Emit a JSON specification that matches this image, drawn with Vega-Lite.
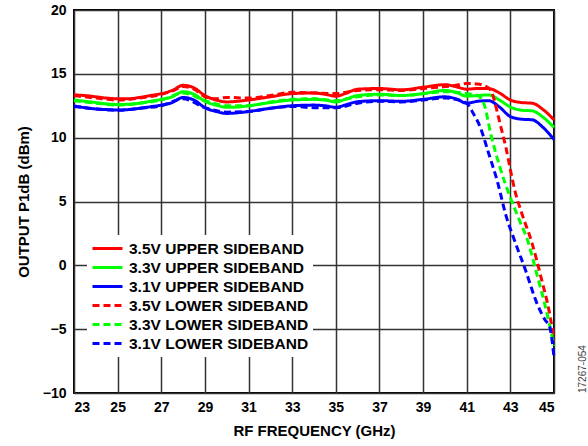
{
  "$schema": "https://vega.github.io/schema/vega-lite/v6.json",
  "width": 480,
  "height": 383,
  "autosize": {"type": "none"},
  "padding": {"left": 74, "top": 10, "right": 34, "bottom": 53},
  "background": "white",
  "config": {
    "font": "Liberation Sans",
    "view": {"stroke": "#000", "strokeWidth": 2}
  },
  "title": {
    "text": "17267-054",
    "orient": "right",
    "anchor": "end",
    "frame": "group",
    "angle": -90,
    "align": "left",
    "fontSize": 10,
    "fontWeight": "normal",
    "color": "#444",
    "offset": 8
  },
  "data": {
    "values": [
      {"s": "3.5V UPPER SIDEBAND", "f": 23, "p": 13.35},
      {"s": "3.5V UPPER SIDEBAND", "f": 23.5, "p": 13.3},
      {"s": "3.5V UPPER SIDEBAND", "f": 24, "p": 13.2},
      {"s": "3.5V UPPER SIDEBAND", "f": 24.5, "p": 13.1},
      {"s": "3.5V UPPER SIDEBAND", "f": 25, "p": 13.05},
      {"s": "3.5V UPPER SIDEBAND", "f": 25.5, "p": 13.05},
      {"s": "3.5V UPPER SIDEBAND", "f": 26, "p": 13.15},
      {"s": "3.5V UPPER SIDEBAND", "f": 26.5, "p": 13.3},
      {"s": "3.5V UPPER SIDEBAND", "f": 27, "p": 13.45},
      {"s": "3.5V UPPER SIDEBAND", "f": 27.5, "p": 13.7},
      {"s": "3.5V UPPER SIDEBAND", "f": 28, "p": 14.1},
      {"s": "3.5V UPPER SIDEBAND", "f": 28.5, "p": 13.9},
      {"s": "3.5V UPPER SIDEBAND", "f": 29, "p": 13.3},
      {"s": "3.5V UPPER SIDEBAND", "f": 29.5, "p": 12.95},
      {"s": "3.5V UPPER SIDEBAND", "f": 30, "p": 12.8},
      {"s": "3.5V UPPER SIDEBAND", "f": 30.5, "p": 12.85},
      {"s": "3.5V UPPER SIDEBAND", "f": 31, "p": 12.95},
      {"s": "3.5V UPPER SIDEBAND", "f": 32, "p": 13.2},
      {"s": "3.5V UPPER SIDEBAND", "f": 33, "p": 13.45},
      {"s": "3.5V UPPER SIDEBAND", "f": 34, "p": 13.5},
      {"s": "3.5V UPPER SIDEBAND", "f": 34.5, "p": 13.4},
      {"s": "3.5V UPPER SIDEBAND", "f": 35, "p": 13.25},
      {"s": "3.5V UPPER SIDEBAND", "f": 35.5, "p": 13.5},
      {"s": "3.5V UPPER SIDEBAND", "f": 36, "p": 13.8},
      {"s": "3.5V UPPER SIDEBAND", "f": 37, "p": 13.85},
      {"s": "3.5V UPPER SIDEBAND", "f": 38, "p": 13.75},
      {"s": "3.5V UPPER SIDEBAND", "f": 39, "p": 13.95},
      {"s": "3.5V UPPER SIDEBAND", "f": 40, "p": 14.15},
      {"s": "3.5V UPPER SIDEBAND", "f": 40.5, "p": 14.0},
      {"s": "3.5V UPPER SIDEBAND", "f": 41, "p": 13.8},
      {"s": "3.5V UPPER SIDEBAND", "f": 41.5, "p": 13.85},
      {"s": "3.5V UPPER SIDEBAND", "f": 42, "p": 13.85},
      {"s": "3.5V UPPER SIDEBAND", "f": 42.5, "p": 13.5},
      {"s": "3.5V UPPER SIDEBAND", "f": 43, "p": 12.95},
      {"s": "3.5V UPPER SIDEBAND", "f": 43.5, "p": 12.75},
      {"s": "3.5V UPPER SIDEBAND", "f": 44, "p": 12.7},
      {"s": "3.5V UPPER SIDEBAND", "f": 44.5, "p": 12.2},
      {"s": "3.5V UPPER SIDEBAND", "f": 45, "p": 11.4},

      {"s": "3.3V UPPER SIDEBAND", "f": 23, "p": 12.95},
      {"s": "3.3V UPPER SIDEBAND", "f": 23.5, "p": 12.85},
      {"s": "3.3V UPPER SIDEBAND", "f": 24, "p": 12.75},
      {"s": "3.3V UPPER SIDEBAND", "f": 24.5, "p": 12.65},
      {"s": "3.3V UPPER SIDEBAND", "f": 25, "p": 12.6},
      {"s": "3.3V UPPER SIDEBAND", "f": 25.5, "p": 12.62},
      {"s": "3.3V UPPER SIDEBAND", "f": 26, "p": 12.7},
      {"s": "3.3V UPPER SIDEBAND", "f": 26.5, "p": 12.85},
      {"s": "3.3V UPPER SIDEBAND", "f": 27, "p": 13.0},
      {"s": "3.3V UPPER SIDEBAND", "f": 27.5, "p": 13.2},
      {"s": "3.3V UPPER SIDEBAND", "f": 28, "p": 13.6},
      {"s": "3.3V UPPER SIDEBAND", "f": 28.5, "p": 13.4},
      {"s": "3.3V UPPER SIDEBAND", "f": 29, "p": 12.85},
      {"s": "3.3V UPPER SIDEBAND", "f": 29.5, "p": 12.55},
      {"s": "3.3V UPPER SIDEBAND", "f": 30, "p": 12.38},
      {"s": "3.3V UPPER SIDEBAND", "f": 30.5, "p": 12.4},
      {"s": "3.3V UPPER SIDEBAND", "f": 31, "p": 12.5},
      {"s": "3.3V UPPER SIDEBAND", "f": 32, "p": 12.75},
      {"s": "3.3V UPPER SIDEBAND", "f": 33, "p": 12.95},
      {"s": "3.3V UPPER SIDEBAND", "f": 34, "p": 13.0},
      {"s": "3.3V UPPER SIDEBAND", "f": 34.5, "p": 12.95},
      {"s": "3.3V UPPER SIDEBAND", "f": 35, "p": 12.8},
      {"s": "3.3V UPPER SIDEBAND", "f": 35.5, "p": 13.05},
      {"s": "3.3V UPPER SIDEBAND", "f": 36, "p": 13.3},
      {"s": "3.3V UPPER SIDEBAND", "f": 37, "p": 13.4},
      {"s": "3.3V UPPER SIDEBAND", "f": 38, "p": 13.3},
      {"s": "3.3V UPPER SIDEBAND", "f": 39, "p": 13.45},
      {"s": "3.3V UPPER SIDEBAND", "f": 40, "p": 13.7},
      {"s": "3.3V UPPER SIDEBAND", "f": 40.5, "p": 13.55},
      {"s": "3.3V UPPER SIDEBAND", "f": 41, "p": 13.25},
      {"s": "3.3V UPPER SIDEBAND", "f": 41.5, "p": 13.3},
      {"s": "3.3V UPPER SIDEBAND", "f": 42, "p": 13.35},
      {"s": "3.3V UPPER SIDEBAND", "f": 42.5, "p": 12.95},
      {"s": "3.3V UPPER SIDEBAND", "f": 43, "p": 12.4},
      {"s": "3.3V UPPER SIDEBAND", "f": 43.5, "p": 12.15},
      {"s": "3.3V UPPER SIDEBAND", "f": 44, "p": 12.1},
      {"s": "3.3V UPPER SIDEBAND", "f": 44.5, "p": 11.6},
      {"s": "3.3V UPPER SIDEBAND", "f": 45, "p": 10.8},

      {"s": "3.1V UPPER SIDEBAND", "f": 23, "p": 12.48},
      {"s": "3.1V UPPER SIDEBAND", "f": 23.5, "p": 12.35},
      {"s": "3.1V UPPER SIDEBAND", "f": 24, "p": 12.25},
      {"s": "3.1V UPPER SIDEBAND", "f": 24.5, "p": 12.2},
      {"s": "3.1V UPPER SIDEBAND", "f": 25, "p": 12.17},
      {"s": "3.1V UPPER SIDEBAND", "f": 25.5, "p": 12.2},
      {"s": "3.1V UPPER SIDEBAND", "f": 26, "p": 12.3},
      {"s": "3.1V UPPER SIDEBAND", "f": 26.5, "p": 12.42},
      {"s": "3.1V UPPER SIDEBAND", "f": 27, "p": 12.55},
      {"s": "3.1V UPPER SIDEBAND", "f": 27.5, "p": 12.75},
      {"s": "3.1V UPPER SIDEBAND", "f": 28, "p": 13.15},
      {"s": "3.1V UPPER SIDEBAND", "f": 28.5, "p": 12.95},
      {"s": "3.1V UPPER SIDEBAND", "f": 29, "p": 12.35},
      {"s": "3.1V UPPER SIDEBAND", "f": 29.5, "p": 12.05},
      {"s": "3.1V UPPER SIDEBAND", "f": 30, "p": 11.9},
      {"s": "3.1V UPPER SIDEBAND", "f": 30.5, "p": 11.95},
      {"s": "3.1V UPPER SIDEBAND", "f": 31, "p": 12.05},
      {"s": "3.1V UPPER SIDEBAND", "f": 32, "p": 12.3},
      {"s": "3.1V UPPER SIDEBAND", "f": 33, "p": 12.5},
      {"s": "3.1V UPPER SIDEBAND", "f": 34, "p": 12.55},
      {"s": "3.1V UPPER SIDEBAND", "f": 34.5, "p": 12.5},
      {"s": "3.1V UPPER SIDEBAND", "f": 35, "p": 12.38},
      {"s": "3.1V UPPER SIDEBAND", "f": 35.5, "p": 12.6},
      {"s": "3.1V UPPER SIDEBAND", "f": 36, "p": 12.82},
      {"s": "3.1V UPPER SIDEBAND", "f": 37, "p": 12.9},
      {"s": "3.1V UPPER SIDEBAND", "f": 38, "p": 12.85},
      {"s": "3.1V UPPER SIDEBAND", "f": 39, "p": 13.0},
      {"s": "3.1V UPPER SIDEBAND", "f": 40, "p": 13.2},
      {"s": "3.1V UPPER SIDEBAND", "f": 40.5, "p": 13.05},
      {"s": "3.1V UPPER SIDEBAND", "f": 41, "p": 12.7},
      {"s": "3.1V UPPER SIDEBAND", "f": 41.5, "p": 12.85},
      {"s": "3.1V UPPER SIDEBAND", "f": 42, "p": 12.9},
      {"s": "3.1V UPPER SIDEBAND", "f": 42.5, "p": 12.4},
      {"s": "3.1V UPPER SIDEBAND", "f": 43, "p": 11.65},
      {"s": "3.1V UPPER SIDEBAND", "f": 43.5, "p": 11.45},
      {"s": "3.1V UPPER SIDEBAND", "f": 44, "p": 11.4},
      {"s": "3.1V UPPER SIDEBAND", "f": 44.5, "p": 10.8},
      {"s": "3.1V UPPER SIDEBAND", "f": 45, "p": 9.85},

      {"s": "3.5V LOWER SIDEBAND", "f": 23, "p": 13.3},
      {"s": "3.5V LOWER SIDEBAND", "f": 24, "p": 13.1},
      {"s": "3.5V LOWER SIDEBAND", "f": 25, "p": 12.95},
      {"s": "3.5V LOWER SIDEBAND", "f": 26, "p": 13.1},
      {"s": "3.5V LOWER SIDEBAND", "f": 27, "p": 13.4},
      {"s": "3.5V LOWER SIDEBAND", "f": 27.5, "p": 13.65},
      {"s": "3.5V LOWER SIDEBAND", "f": 28, "p": 14.0},
      {"s": "3.5V LOWER SIDEBAND", "f": 28.5, "p": 13.8},
      {"s": "3.5V LOWER SIDEBAND", "f": 29, "p": 13.2},
      {"s": "3.5V LOWER SIDEBAND", "f": 29.5, "p": 13.05},
      {"s": "3.5V LOWER SIDEBAND", "f": 30, "p": 13.15},
      {"s": "3.5V LOWER SIDEBAND", "f": 31, "p": 13.1},
      {"s": "3.5V LOWER SIDEBAND", "f": 32, "p": 13.3},
      {"s": "3.5V LOWER SIDEBAND", "f": 33, "p": 13.55},
      {"s": "3.5V LOWER SIDEBAND", "f": 34, "p": 13.5},
      {"s": "3.5V LOWER SIDEBAND", "f": 35, "p": 13.45},
      {"s": "3.5V LOWER SIDEBAND", "f": 36, "p": 13.7},
      {"s": "3.5V LOWER SIDEBAND", "f": 37, "p": 13.75},
      {"s": "3.5V LOWER SIDEBAND", "f": 38, "p": 13.7},
      {"s": "3.5V LOWER SIDEBAND", "f": 39, "p": 13.85},
      {"s": "3.5V LOWER SIDEBAND", "f": 40, "p": 14.0},
      {"s": "3.5V LOWER SIDEBAND", "f": 40.5, "p": 14.1},
      {"s": "3.5V LOWER SIDEBAND", "f": 41, "p": 14.25},
      {"s": "3.5V LOWER SIDEBAND", "f": 41.5, "p": 14.2},
      {"s": "3.5V LOWER SIDEBAND", "f": 42, "p": 13.9},
      {"s": "3.5V LOWER SIDEBAND", "f": 42.2, "p": 13.3},
      {"s": "3.5V LOWER SIDEBAND", "f": 42.4, "p": 12.0},
      {"s": "3.5V LOWER SIDEBAND", "f": 42.6, "p": 10.6},
      {"s": "3.5V LOWER SIDEBAND", "f": 42.8, "p": 9.2},
      {"s": "3.5V LOWER SIDEBAND", "f": 43, "p": 7.5},
      {"s": "3.5V LOWER SIDEBAND", "f": 43.2, "p": 5.9},
      {"s": "3.5V LOWER SIDEBAND", "f": 43.5, "p": 4.2},
      {"s": "3.5V LOWER SIDEBAND", "f": 44, "p": 1.7},
      {"s": "3.5V LOWER SIDEBAND", "f": 44.4, "p": -0.9},
      {"s": "3.5V LOWER SIDEBAND", "f": 44.8, "p": -3.8},
      {"s": "3.5V LOWER SIDEBAND", "f": 45, "p": -5.8},

      {"s": "3.3V LOWER SIDEBAND", "f": 23, "p": 12.9},
      {"s": "3.3V LOWER SIDEBAND", "f": 24, "p": 12.7},
      {"s": "3.3V LOWER SIDEBAND", "f": 25, "p": 12.55},
      {"s": "3.3V LOWER SIDEBAND", "f": 26, "p": 12.7},
      {"s": "3.3V LOWER SIDEBAND", "f": 27, "p": 12.95},
      {"s": "3.3V LOWER SIDEBAND", "f": 28, "p": 13.5},
      {"s": "3.3V LOWER SIDEBAND", "f": 29, "p": 12.9},
      {"s": "3.3V LOWER SIDEBAND", "f": 30, "p": 12.5},
      {"s": "3.3V LOWER SIDEBAND", "f": 31, "p": 12.5},
      {"s": "3.3V LOWER SIDEBAND", "f": 32, "p": 12.8},
      {"s": "3.3V LOWER SIDEBAND", "f": 33, "p": 13.0},
      {"s": "3.3V LOWER SIDEBAND", "f": 34, "p": 13.05},
      {"s": "3.3V LOWER SIDEBAND", "f": 35, "p": 12.9},
      {"s": "3.3V LOWER SIDEBAND", "f": 36, "p": 13.2},
      {"s": "3.3V LOWER SIDEBAND", "f": 37, "p": 13.35},
      {"s": "3.3V LOWER SIDEBAND", "f": 38, "p": 13.3},
      {"s": "3.3V LOWER SIDEBAND", "f": 39, "p": 13.45},
      {"s": "3.3V LOWER SIDEBAND", "f": 40, "p": 13.6},
      {"s": "3.3V LOWER SIDEBAND", "f": 40.5, "p": 13.55},
      {"s": "3.3V LOWER SIDEBAND", "f": 41, "p": 13.45},
      {"s": "3.3V LOWER SIDEBAND", "f": 41.5, "p": 13.3},
      {"s": "3.3V LOWER SIDEBAND", "f": 41.8, "p": 12.6},
      {"s": "3.3V LOWER SIDEBAND", "f": 42.1, "p": 10.3},
      {"s": "3.3V LOWER SIDEBAND", "f": 42.5, "p": 7.8},
      {"s": "3.3V LOWER SIDEBAND", "f": 43, "p": 5.3},
      {"s": "3.3V LOWER SIDEBAND", "f": 43.4, "p": 3.6},
      {"s": "3.3V LOWER SIDEBAND", "f": 43.8, "p": 1.9},
      {"s": "3.3V LOWER SIDEBAND", "f": 44.2, "p": -0.6},
      {"s": "3.3V LOWER SIDEBAND", "f": 44.6, "p": -3.2},
      {"s": "3.3V LOWER SIDEBAND", "f": 45, "p": -6.3},

      {"s": "3.1V LOWER SIDEBAND", "f": 23, "p": 12.45},
      {"s": "3.1V LOWER SIDEBAND", "f": 24, "p": 12.25},
      {"s": "3.1V LOWER SIDEBAND", "f": 25, "p": 12.15},
      {"s": "3.1V LOWER SIDEBAND", "f": 26, "p": 12.3},
      {"s": "3.1V LOWER SIDEBAND", "f": 27, "p": 12.5},
      {"s": "3.1V LOWER SIDEBAND", "f": 28, "p": 13.05},
      {"s": "3.1V LOWER SIDEBAND", "f": 29, "p": 12.35},
      {"s": "3.1V LOWER SIDEBAND", "f": 30, "p": 12.0},
      {"s": "3.1V LOWER SIDEBAND", "f": 31, "p": 12.05},
      {"s": "3.1V LOWER SIDEBAND", "f": 32, "p": 12.3},
      {"s": "3.1V LOWER SIDEBAND", "f": 33, "p": 12.45},
      {"s": "3.1V LOWER SIDEBAND", "f": 34, "p": 12.35},
      {"s": "3.1V LOWER SIDEBAND", "f": 35, "p": 12.35},
      {"s": "3.1V LOWER SIDEBAND", "f": 36, "p": 12.7},
      {"s": "3.1V LOWER SIDEBAND", "f": 37, "p": 12.85},
      {"s": "3.1V LOWER SIDEBAND", "f": 38, "p": 12.8},
      {"s": "3.1V LOWER SIDEBAND", "f": 39, "p": 12.95},
      {"s": "3.1V LOWER SIDEBAND", "f": 40, "p": 13.1},
      {"s": "3.1V LOWER SIDEBAND", "f": 40.5, "p": 13.0},
      {"s": "3.1V LOWER SIDEBAND", "f": 41, "p": 12.7},
      {"s": "3.1V LOWER SIDEBAND", "f": 41.3, "p": 11.9},
      {"s": "3.1V LOWER SIDEBAND", "f": 41.6, "p": 10.9},
      {"s": "3.1V LOWER SIDEBAND", "f": 42, "p": 8.8},
      {"s": "3.1V LOWER SIDEBAND", "f": 42.4, "p": 6.6},
      {"s": "3.1V LOWER SIDEBAND", "f": 42.8, "p": 3.9},
      {"s": "3.1V LOWER SIDEBAND", "f": 43.2, "p": 1.9},
      {"s": "3.1V LOWER SIDEBAND", "f": 43.7, "p": -0.4},
      {"s": "3.1V LOWER SIDEBAND", "f": 44.2, "p": -2.9},
      {"s": "3.1V LOWER SIDEBAND", "f": 44.6, "p": -4.3},
      {"s": "3.1V LOWER SIDEBAND", "f": 44.8, "p": -4.8},
      {"s": "3.1V LOWER SIDEBAND", "f": 45, "p": -7.2}
    ]
  },
  "mark": {"type": "line", "strokeWidth": 3, "interpolate": "monotone"},
  "encoding": {
    "x": {
      "field": "f",
      "type": "quantitative",
      "scale": {"domain": [23, 45], "nice": false, "zero": false},
      "axis": {
        "values": [23, 25, 27, 29, 31, 33, 35, 37, 39, 41, 43, 45],
        "title": "RF FREQUENCY (GHz)",
        "grid": true,
        "gridColor": "#333",
        "gridWidth": 1.5,
        "domain": false,
        "ticks": false,
        "labelFont": "Liberation Sans",
        "labelFontSize": 14,
        "labelFontWeight": "bold",
        "labelColor": "#000",
        "labelPadding": 7,
        "titleFont": "Liberation Sans",
        "titleFontSize": 15,
        "titleFontWeight": "bold",
        "titleColor": "#000",
        "titlePadding": 9
      }
    },
    "y": {
      "field": "p",
      "type": "quantitative",
      "scale": {"domain": [-10, 20], "nice": false, "zero": false},
      "axis": {
        "values": [-10, -5, 0, 5, 10, 15, 20],
        "title": "OUTPUT P1dB (dBm)",
        "grid": true,
        "gridColor": "#333",
        "gridWidth": 1.5,
        "domain": false,
        "ticks": false,
        "labelFont": "Liberation Sans",
        "labelFontSize": 14,
        "labelFontWeight": "bold",
        "labelColor": "#000",
        "labelPadding": 8,
        "titleFont": "Liberation Sans",
        "titleFontSize": 15,
        "titleFontWeight": "bold",
        "titleColor": "#000",
        "titlePadding": 11
      }
    },
    "color": {
      "field": "s",
      "type": "nominal",
      "scale": {
        "domain": ["3.5V UPPER SIDEBAND", "3.3V UPPER SIDEBAND", "3.1V UPPER SIDEBAND", "3.5V LOWER SIDEBAND", "3.3V LOWER SIDEBAND", "3.1V LOWER SIDEBAND"],
        "range": ["#ff0000", "#00ff00", "#0000ff", "#ff0000", "#00ff00", "#0000ff"]
      },
      "legend": {
        "title": null,
        "orient": "none",
        "legendX": 13,
        "legendY": 225,
        "fillColor": "white",
        "padding": 4,
        "symbolType": "stroke",
        "symbolSize": 900,
        "symbolStrokeWidth": 3,
        "clipHeight": 19,
        "labelFont": "Liberation Sans",
        "labelFontSize": 15.5,
        "labelFontWeight": "bold",
        "labelColor": "#000",
        "labelOffset": 5,
        "labelLimit": 400,
        "rowPadding": 0
      }
    },
    "strokeDash": {
      "field": "s",
      "type": "nominal",
      "scale": {
        "domain": ["3.5V UPPER SIDEBAND", "3.3V UPPER SIDEBAND", "3.1V UPPER SIDEBAND", "3.5V LOWER SIDEBAND", "3.3V LOWER SIDEBAND", "3.1V LOWER SIDEBAND"],
        "range": [[1, 0], [1, 0], [1, 0], [7, 4], [7, 4], [7, 4]]
      },
      "legend": {
        "title": null,
        "orient": "none",
        "legendX": 13,
        "legendY": 225,
        "fillColor": "white",
        "padding": 4,
        "symbolType": "stroke",
        "symbolSize": 900,
        "symbolStrokeWidth": 3,
        "clipHeight": 19,
        "labelFont": "Liberation Sans",
        "labelFontSize": 15.5,
        "labelFontWeight": "bold",
        "labelColor": "#000",
        "labelOffset": 5,
        "labelLimit": 400,
        "rowPadding": 0
      }
    }
  }
}
